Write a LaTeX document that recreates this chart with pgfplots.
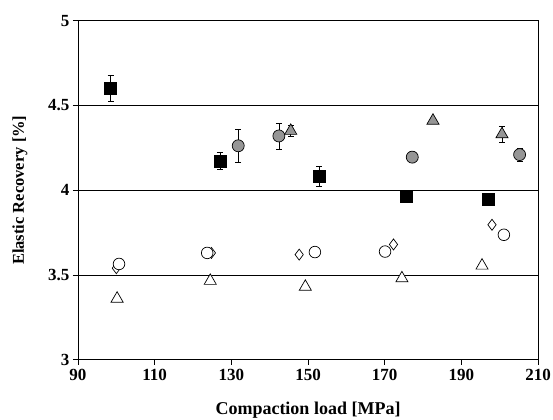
\documentclass[border=0pt]{standalone}
\usepackage{fontspec}
\setmainfont{Liberation Serif}
\usepackage{pgfplots}
\pgfplotsset{compat=1.18}

\definecolor{markgray}{RGB}{150,150,150}
\newcommand\tlfont{\fontsize{17}{19}\selectfont\bfseries}

\begin{document}
\begin{tikzpicture}
\begin{axis}[
    scale only axis,
    width=460pt, height=339pt,
    xmin=90, xmax=210, ymin=3, ymax=5,
    xtick={90,110,130,150,170,190,210},
    ytick={3,3.5,4,4.5,5},
    xticklabel={\tlfont\pgfmathprintnumber[assume math mode=true]{\tick}},
    yticklabel={\tlfont\pgfmathprintnumber[assume math mode=true]{\tick}},
    ymajorgrids,
    grid style={black, line width=0.6pt},
    tick align=outside,
    xtick pos=left, ytick pos=left,
    major tick length=5pt,
    axis line style={line width=0.8pt},
    tick style={black, line width=0.8pt},
    tick label style={font=\tlfont},
    xticklabel style={yshift=-1pt},
    xlabel={Compaction load [MPa]},
    ylabel={Elastic Recovery [\%]},
    xlabel style={font=\fontsize{18}{20}\selectfont\bfseries, yshift=-14pt},
    ylabel style={font=\fontsize{16.5}{19}\selectfont\bfseries, yshift=14pt},
    error bars/error bar style={black, line width=0.6pt},
    error bars/error mark options={black, line width=0.6pt, mark size=3pt, rotate=90},
]

% open diamonds
\addplot[only marks, mark=diamond*, mark size=5.5pt,
  mark options={fill=white, draw=black, line width=0.7pt}]
coordinates {
  (100.0,3.54) (124.8,3.63) (147.7,3.62) (172.3,3.68) (198.0,3.796)
};

% open circles
\addplot[only marks, mark=*, mark size=5.8pt,
  mark options={fill=white, draw=black, line width=0.7pt}]
coordinates {
  (100.7,3.565) (123.7,3.63) (151.8,3.635) (170.1,3.638) (201.1,3.737)
};

% open triangles
\addplot[only marks, mark=triangle*, mark size=7pt,
  mark options={fill=white, draw=black, line width=0.7pt}]
coordinates {
  (100.2,3.36) (124.5,3.465) (149.3,3.43) (174.5,3.48) (195.4,3.555)
};

% black squares
\addplot[only marks, mark=square*, mark size=6pt,
  mark options={fill=black, draw=black},
  error bars/.cd, y dir=both, y explicit]
coordinates {
  (98.5,4.60) +- (0,0.075)
  (127.0,4.173) +- (0,0.05)
  (152.9,4.082) +- (0,0.06)
  (175.5,3.965) +- (0,0.02)
  (197.1,3.948) +- (0,0.02)
};

% gray circles
\addplot[only marks, mark=*, mark size=6pt,
  mark options={fill=markgray, draw=black, line width=0.7pt},
  error bars/.cd, y dir=both, y explicit]
coordinates {
  (131.8,4.262) +- (0,0.10)
  (142.4,4.32) +- (0,0.077)
  (177.2,4.195) +- (0,0.015)
  (205.2,4.21) +- (0,0.04)
};

% gray triangles
\addplot[only marks, mark=triangle*, mark size=7pt,
  mark options={fill=markgray, draw=black, line width=0.7pt},
  error bars/.cd, y dir=both, y explicit]
coordinates {
  (145.5,4.35) +- (0,0.03)
  (182.6,4.41) +- (0,0.01)
  (200.6,4.33) +- (0,0.045)
};

\end{axis}
\pgfresetboundingbox
\path[use as bounding box]
  ([shift={(-78pt,-60pt)}]current axis.south west)
  rectangle ([shift={(15pt,20.7pt)}]current axis.north east);
\end{tikzpicture}
\end{document}
